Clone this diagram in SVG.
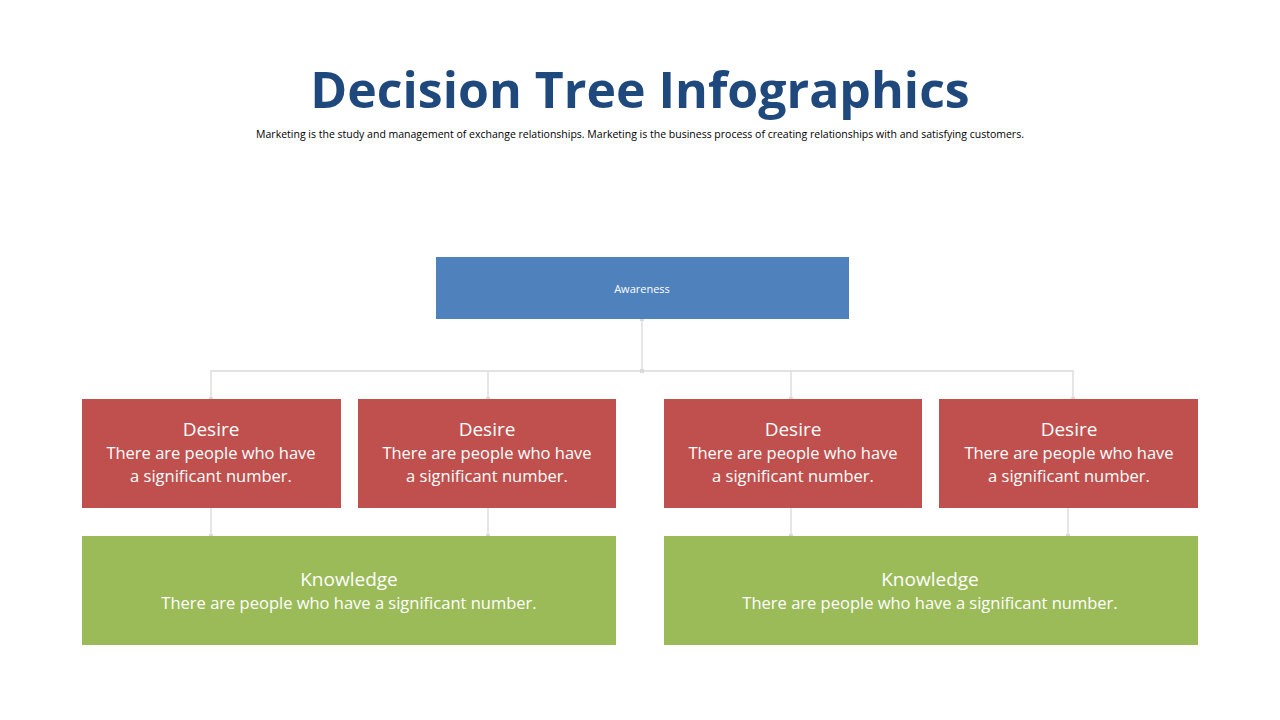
<svg xmlns="http://www.w3.org/2000/svg" width="1280" height="720" viewBox="0 0 1280 720">
<style>
text{font-family:"Open Sans","Noto Sans",sans-serif;fill:#fff;text-anchor:middle}
.c{stroke:#d9d9d9;stroke-width:1.3;fill:none}
.d{fill:#c0504d}.k{fill:#9bbb59}
.t{font-size:19px}.s{font-size:16.5px}
</style>
<defs><marker id="m" markerWidth="4" markerHeight="4" refX="2" refY="2" markerUnits="userSpaceOnUse"><rect width="4" height="4" fill="#d9d9d9"/></marker></defs>
<rect width="1280" height="720" fill="#fff"/>
<text x="640" y="108" style="font-size:50px;font-weight:bold;fill:#1f497d">Decision Tree Infographics</text>
<text x="640" y="138" style="font-size:10.5px;fill:#000">Marketing is the study and management of exchange relationships. Marketing is the business process of creating relationships with and satisfying customers.</text>
<g id="connectors" class="c">
<path d="M642 319V371" marker-start="url(#m)" marker-end="url(#m)"/>
<path d="M642 371H211V399" marker-end="url(#m)"/>
<path d="M488 371V399" marker-end="url(#m)"/>
<path d="M642 371H1073V399" marker-end="url(#m)"/>
<path d="M791 371V399" marker-end="url(#m)"/>
<path d="M211 508V536" marker-end="url(#m)"/>
<path d="M488 508V536" marker-end="url(#m)"/>
<path d="M791 508V536" marker-end="url(#m)"/>
<path d="M1068 508V536" marker-end="url(#m)"/>
</g>
<g id="awareness"><rect x="436" y="257" width="413" height="62" fill="#4f81bd"/><text x="642" y="293" style="font-size:11px">Awareness</text></g>
<g id="desire1"><rect class="d" x="82" y="399" width="259" height="109"/><text x="211" y="436" class="t">Desire</text><text x="211" y="459" class="s">There are people who have</text><text x="211" y="482" class="s">a significant number.</text></g>
<g id="desire2"><rect class="d" x="358" y="399" width="258" height="109"/><text x="487" y="436" class="t">Desire</text><text x="487" y="459" class="s">There are people who have</text><text x="487" y="482" class="s">a significant number.</text></g>
<g id="desire3"><rect class="d" x="664" y="399" width="258" height="109"/><text x="793" y="436" class="t">Desire</text><text x="793" y="459" class="s">There are people who have</text><text x="793" y="482" class="s">a significant number.</text></g>
<g id="desire4"><rect class="d" x="939" y="399" width="259" height="109"/><text x="1069" y="436" class="t">Desire</text><text x="1069" y="459" class="s">There are people who have</text><text x="1069" y="482" class="s">a significant number.</text></g>
<g id="knowledge1"><rect class="k" x="82" y="536" width="534" height="109"/><text x="349" y="586" class="t">Knowledge</text><text x="349" y="609" class="s">There are people who have a significant number.</text></g>
<g id="knowledge2"><rect class="k" x="664" y="536" width="534" height="109"/><text x="930" y="586" class="t">Knowledge</text><text x="930" y="609" class="s">There are people who have a significant number.</text></g>
</svg>
